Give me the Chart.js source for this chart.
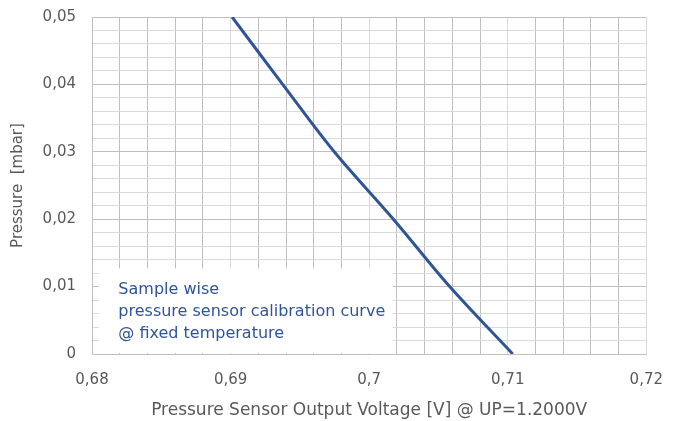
<!DOCTYPE html>
<html>
<head>
<meta charset="utf-8">
<script src="https://cdn.jsdelivr.net/npm/chart.js@4.4.1/dist/chart.umd.min.js"></script>
<style>
  html, body { margin: 0; padding: 0; background: #ffffff; }
  #wrap { width: 680px; height: 421px; position: relative; }
</style>
</head>
<body>
<div id="wrap"><canvas id="c" width="680" height="421"></canvas></div>
<script>
// ---- data ----
const pressureMbar = [0.05, 0.04, 0.03, 0.02, 0.01, 0];
const outputVoltage = [0.69011, 0.69376, 0.69748, 0.70175, 0.70581, 0.71036];
const xRange = [0.68, 0.72];
const yRange = [0, 0.05];
const xGridStep = 0.002;
const yGridStep = 0.002;
const xTitle = 'Pressure Sensor Output Voltage [V] @ UP=1.2000V';
const yTitle = 'Pressure  [mbar]';
const noteLines = ['Sample wise', 'pressure sensor calibration curve', '@ fixed temperature'];

const FONT = "'DejaVu Sans', sans-serif";
const TEXT = '#595959';
const LINE = '#2F5597';
const DARK_GRID = '#bfbfbf';
const LIGHT_GRID = '#d9d9d9';

function fmt(v) {
  const r = Math.round(v * 1000) / 1000;
  return String(r).replace('.', ',');
}
function isMajor(v) {
  return Math.abs(Math.round(v * 100) - v * 100) < 1e-6;
}

const notePlugin = {
  id: 'noteBox',
  beforeDatasetsDraw(chart) {
    const { ctx, scales: { x, y } } = chart;
    const left = x.getPixelForValue(0.6805);
    const right = x.getPixelForValue(0.7017);
    const top = y.getPixelForValue(0.0127);
    const bottom = y.getPixelForValue(0) - 1;
    ctx.save();
    ctx.fillStyle = '#ffffff';
    ctx.fillRect(left, top, right - left, bottom - top);
    ctx.fillStyle = LINE;
    ctx.font = "16px " + FONT;
    ctx.textBaseline = 'alphabetic';
    ctx.textAlign = 'left';
    const tx = x.getPixelForValue(0.6819);
    noteLines.forEach((t, i) => ctx.fillText(t, tx, top + 26 + i * 22));
    ctx.restore();
  }
};

new Chart(document.getElementById('c'), {
  type: 'scatter',
  data: {
    datasets: [{
      data: outputVoltage.map((v, i) => ({ x: v, y: pressureMbar[i] })),
      showLine: true,
      borderColor: LINE,
      borderWidth: 3,
      pointRadius: 0,
      tension: 0.35,
      fill: false
    }]
  },
  options: {
    responsive: false,
    animation: false,
    devicePixelRatio: 1,
    layout: { padding: { left: 0, top: 17, right: 32, bottom: 0 } },
    plugins: { legend: { display: false }, tooltip: { enabled: false } },
    scales: {
      x: {
        type: 'linear',
        min: xRange[0], max: xRange[1],
        afterFit(s) { s.height = 67; },
        border: { display: true, color: DARK_GRID, width: 1 },
        grid: {
          drawTicks: false,
          color: (c) => (c.tick && isMajor(c.tick.value)) ? LIGHT_GRID : DARK_GRID,
          lineWidth: 1
        },
        ticks: {
          stepSize: xGridStep,
          autoSkip: false,
          maxRotation: 0,
          padding: 17,
          color: TEXT,
          font: { family: FONT, size: 15 },
          callback: (v) => isMajor(v) ? fmt(v) : ''
        },
        title: {
          display: true, text: xTitle, color: TEXT,
          font: { family: FONT, size: 17 },
          padding: { top: 0, bottom: 0 }
        }
      },
      y: {
        type: 'linear',
        min: yRange[0], max: yRange[1],
        afterFit(s) { s.width = 92; s.paddingTop = 0; s.paddingBottom = 0; },
        border: { display: true, color: DARK_GRID, width: 1 },
        grid: {
          drawTicks: false,
          color: (c) => (c.tick && isMajor(c.tick.value)) ? DARK_GRID : LIGHT_GRID,
          lineWidth: 1
        },
        ticks: {
          stepSize: yGridStep,
          autoSkip: false,
          padding: 16,
          color: TEXT,
          font: { family: FONT, size: 15 },
          callback: (v) => isMajor(v) ? fmt(v) : ''
        },
        title: {
          display: true, text: yTitle, color: TEXT,
          font: { family: FONT, size: 15 },
          padding: { top: 9, bottom: 0 }
        }
      }
    }
  },
  plugins: [notePlugin]
});
</script>
</body>
</html>
